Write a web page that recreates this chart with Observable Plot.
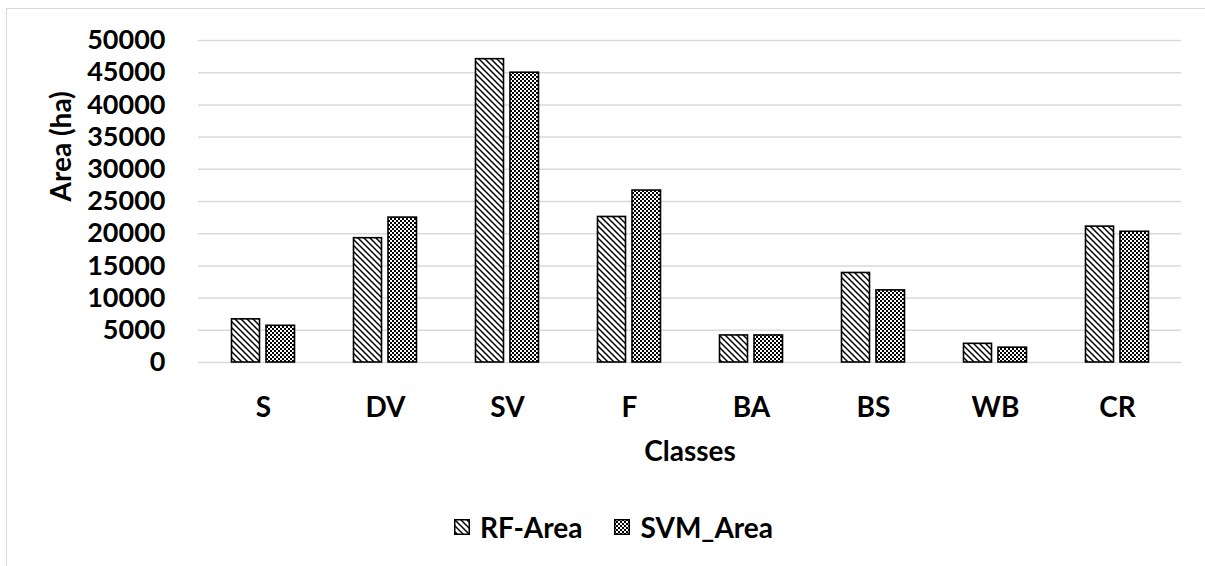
<!DOCTYPE html>
<html>
<head>
<meta charset="utf-8">
<script src="https://cdn.jsdelivr.net/npm/d3@7"></script>
<script src="https://cdn.jsdelivr.net/npm/@observablehq/plot@0.6"></script>
<style>
  html, body { margin: 0; padding: 0; background: #fff; }
  body { width: 1205px; height: 566px; position: relative; overflow: hidden; font-family: Lato, "Open Sans", sans-serif; }
  #frame { position: absolute; left: 6px; top: 8px; width: 1210px; height: 570px; border: 1px solid #d9d9d9; box-sizing: border-box; }
  #chart { position: absolute; left: 0; top: 0; }
  #legend { position: absolute; left: 0; top: 510px; width: 1205px; display: flex; justify-content: center; gap: 32px; font-weight: 700; font-size: 28px; color: #000; padding-left: 22px; box-sizing: border-box; }
  #legend .item { display: flex; align-items: center; gap: 10px; }
  #legend svg { display: block; }
</style>
</head>
<body>
<svg width="0" height="0" style="position:absolute">
  <defs>
    <pattern id="diag" patternUnits="userSpaceOnUse" width="6" height="6">
      <rect width="6" height="6" fill="#fff"/>
      <path d="M-1,-1 L7,7 M-4,2 L4,10 M2,-4 L10,4" stroke="#000" stroke-width="1.5"/>
    </pattern>
    <pattern id="check" patternUnits="userSpaceOnUse" width="4" height="4">
      <rect width="4" height="4" fill="#fff"/>
      <rect x="0" y="0" width="2" height="2" fill="#000"/>
      <rect x="2" y="2" width="2" height="2" fill="#000"/>
    </pattern>
  </defs>
</svg>
<div id="frame"></div>
<div id="chart"></div>
<div id="legend"></div>
<script>
const categories = ["S", "DV", "SV", "F", "BA", "BS", "WB", "CR"];
const rfArea  = [6700, 19300, 47100, 22600, 4200, 13900, 2900, 21100];
const svmArea = [5700, 22500, 45000, 26700, 4200, 11200, 2300, 20300];
const yTicks = [0, 5000, 10000, 15000, 20000, 25000, 30000, 35000, 40000, 45000, 50000];
const seriesNames = ["RF-Area", "SVM_Area"];
const seriesFills = ["url(#diag)", "url(#check)"];

const rows = categories.flatMap((c, i) => [
  {cls: c, series: seriesNames[0], value: rfArea[i]},
  {cls: c, series: seriesNames[1], value: svmArea[i]}
]);

const font = "Lato, 'Open Sans', sans-serif";

const plot = Plot.plot({
  width: 1205,
  height: 480,
  marginTop: 40,
  marginBottom: 118,
  marginLeft: 198,
  marginRight: 24,
  style: {fontFamily: font, fontSize: "27px", fontWeight: 700, color: "#000", background: "transparent", overflow: "visible"},
  x: {domain: categories, padding: 0},
  y: {domain: [0, 50000]},
  marks: [
    Plot.ruleY(yTicks, {stroke: "#d9d9d9", strokeWidth: 1.5}),
    Plot.barY(rows.filter(d => d.series === seriesNames[0]), {
      x: "cls", y: "value", fill: seriesFills[0], stroke: "#000", strokeWidth: 1.6,
      insetLeft: 29.5, insetRight: 64.5
    }),
    Plot.barY(rows.filter(d => d.series === seriesNames[1]), {
      x: "cls", y: "value", fill: seriesFills[1], stroke: "#000", strokeWidth: 1.6,
      insetLeft: 64, insetRight: 29.5
    }),
    Plot.axisY({ticks: yTicks, tickSize: 0, tickPadding: 33, tickFormat: d => String(d), label: null, fontSize: 27, fontWeight: 700}),
    Plot.axisX({tickSize: 0, tickPadding: 35, label: null, fontSize: 28, fontWeight: 700}),
    Plot.text(["Classes"], {frameAnchor: "bottom", lineAnchor: "middle", dy: 90, text: d => d, fontSize: 28, fontWeight: 700}),
    Plot.text(["Area (ha)"], {frameAnchor: "left", lineAnchor: "middle", dx: -136, rotate: -90, text: d => d, fontSize: 28, fontWeight: 700})
  ]
});
document.getElementById("chart").appendChild(plot);

const legend = document.getElementById("legend");
seriesNames.forEach((name, i) => {
  const item = document.createElement("div");
  item.className = "item";
  item.innerHTML = `<svg width="16" height="16"><rect x="0.75" y="0.75" width="14.5" height="14.5" fill="${seriesFills[i]}" stroke="#000" stroke-width="1.5"/></svg><span>${name}</span>`;
  legend.appendChild(item);
});
</script>
</body>
</html>
